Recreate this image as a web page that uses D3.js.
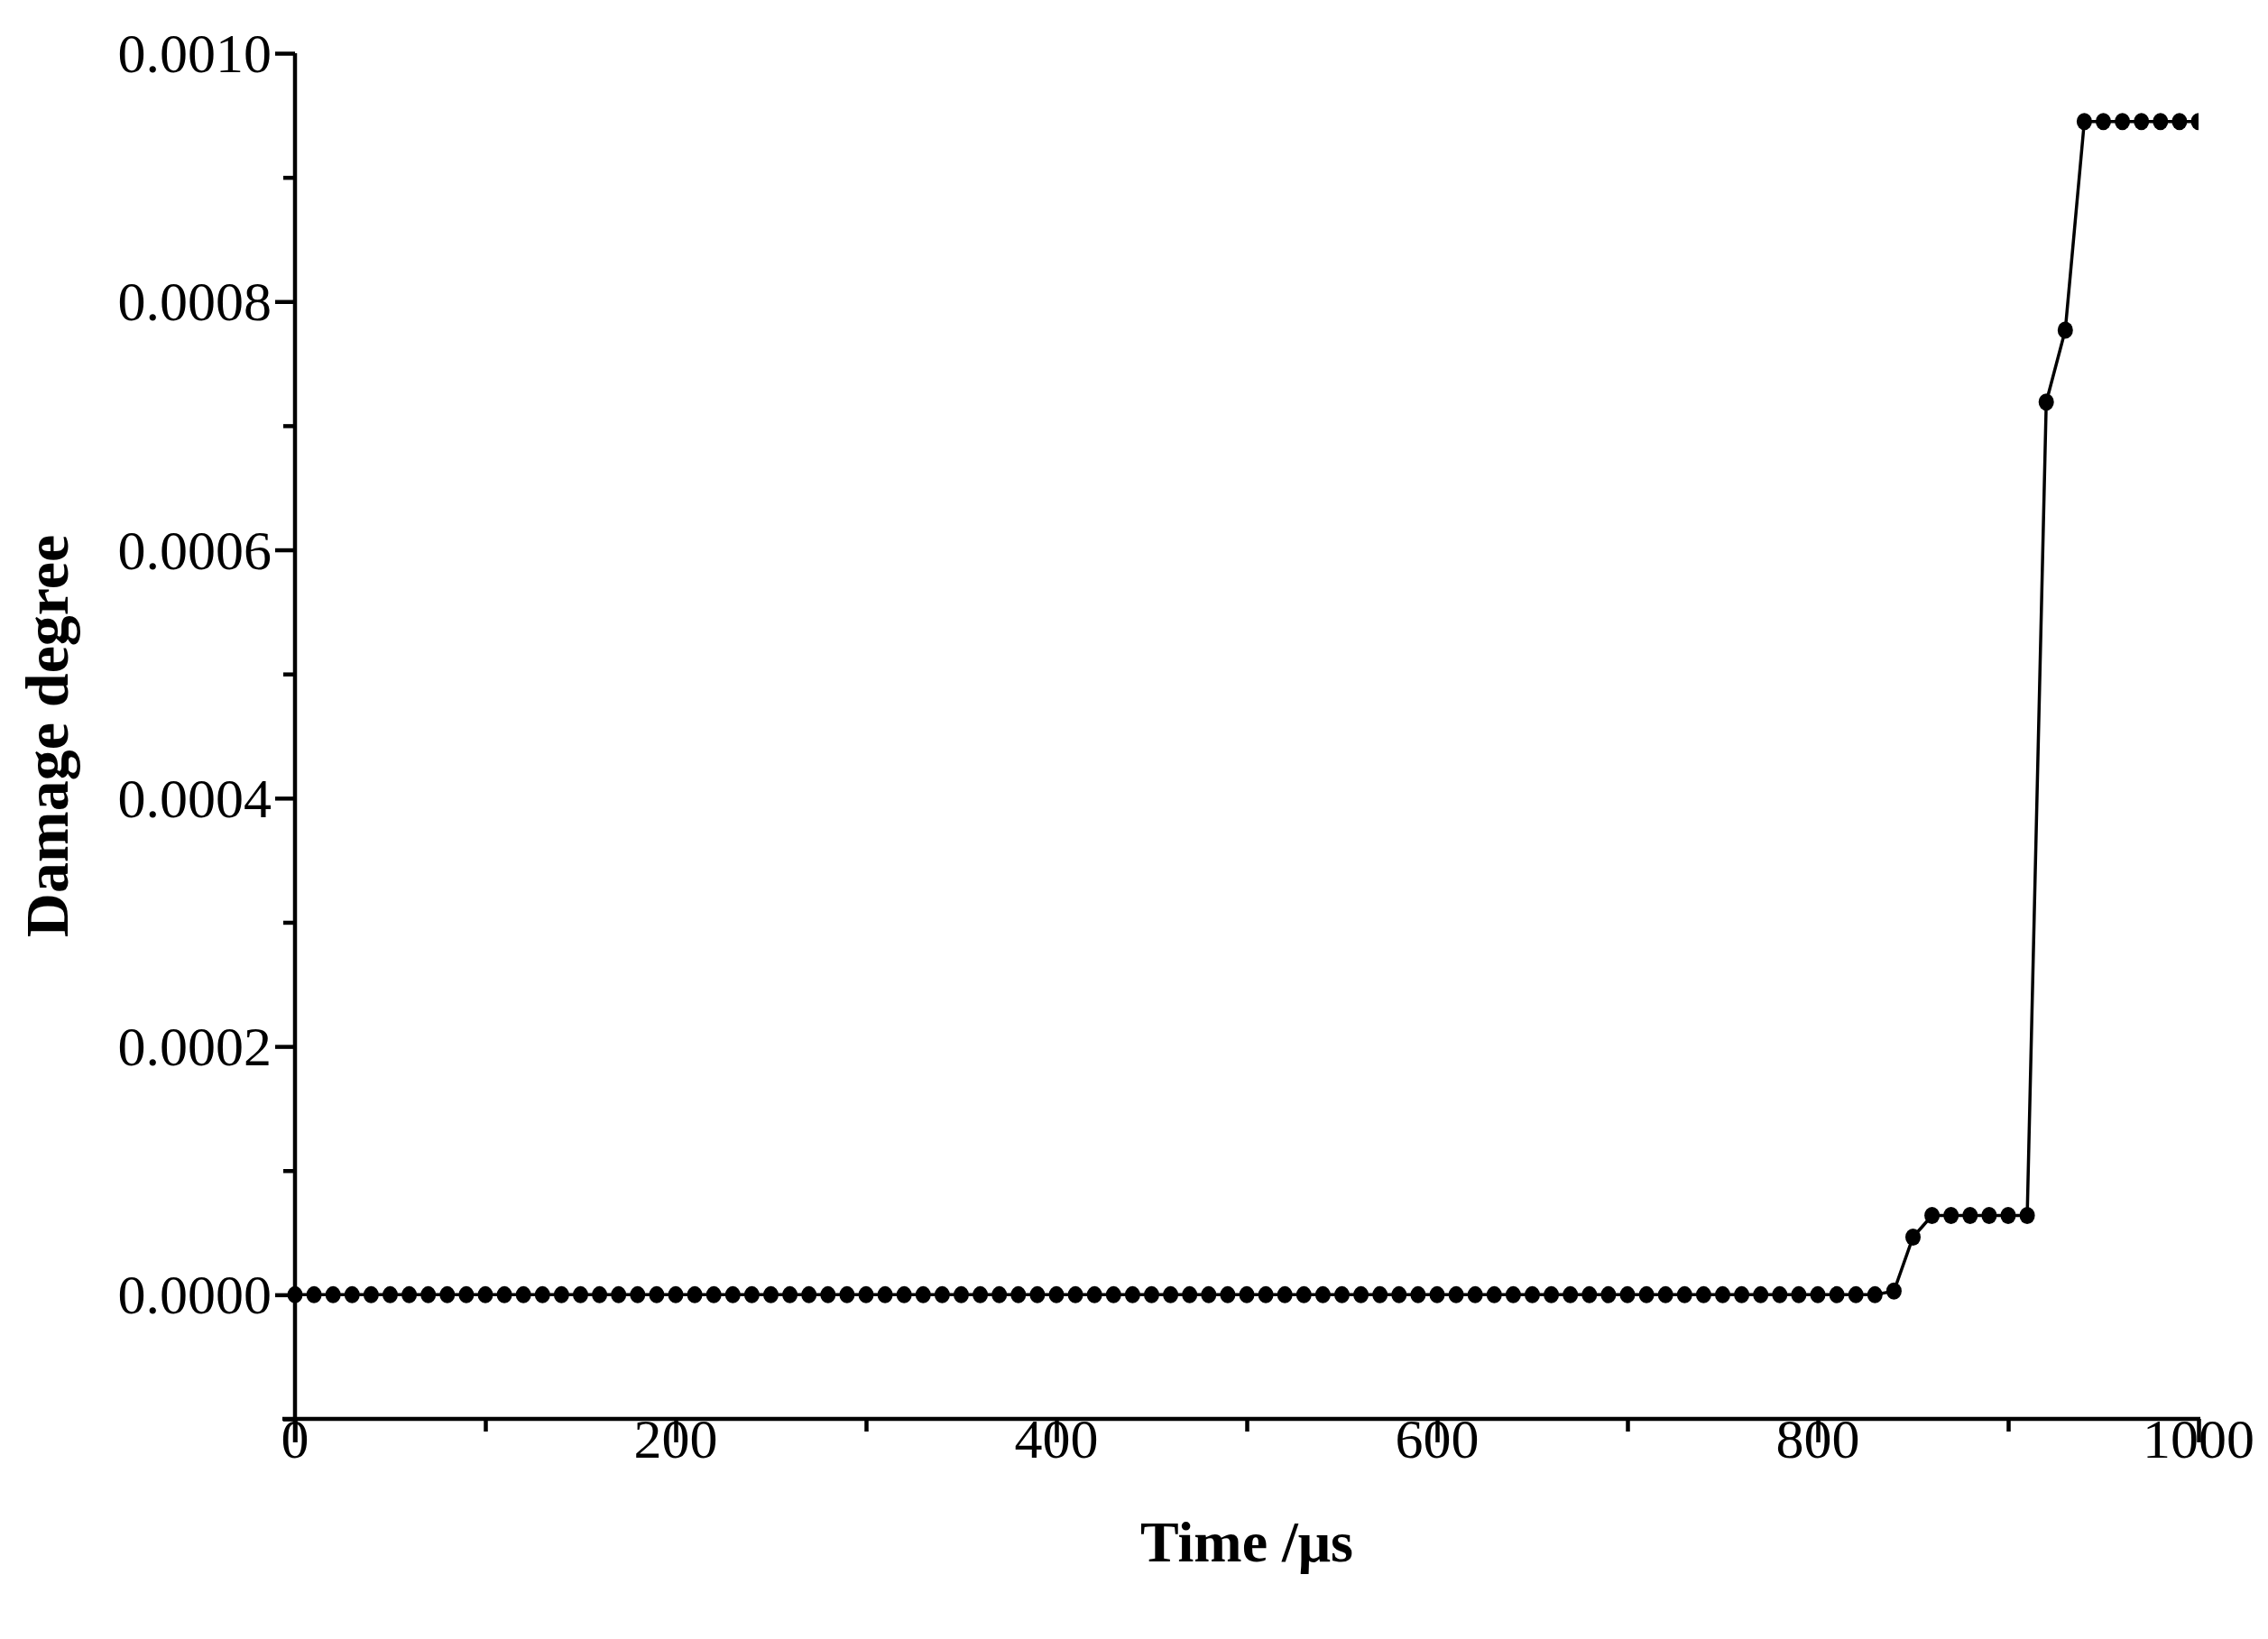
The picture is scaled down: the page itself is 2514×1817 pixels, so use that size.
<!DOCTYPE html>
<html><head><meta charset="utf-8">
<script src="https://cdn.jsdelivr.net/npm/d3@7"></script>
<style>body{margin:0;background:#fff}</style></head>
<body><svg id="c" width="2514" height="1817"></svg>
<script>
const times = d3.range(0, 1001, 10);
const stepTimes = [840, 850, 860, 870, 880, 890, 900, 910, 920, 930, 940, 950, 960, 970, 980, 990, 1000];
const stepValues = [0.000003, 0.0000464, 0.0000638, 0.0000638, 0.0000638, 0.0000638, 0.0000638, 0.0000638, 0.000719, 0.000777, 0.000945, 0.000945, 0.000945, 0.000945, 0.000945, 0.000945, 0.000945];
const xTicks = [0, 200, 400, 600, 800, 1000];
const yTicks = [0, 0.0002, 0.0004, 0.0006, 0.0008, 0.0010];
const data = times.map(t => { const i = stepTimes.indexOf(t); return {t, v: i >= 0 ? stepValues[i] : 0}; });

const svg = d3.select("#c");
const L = 327, R = 2437, T = 59, B = 1573;
const x = d3.scaleLinear().domain([0, 1000]).range([L, R]);
const y = d3.scaleLinear().domain([-0.0001, 0.001]).range([B, T]);
const font = "'Liberation Serif', 'DejaVu Serif', serif";

svg.append("defs").append("clipPath").attr("id","clip").append("rect")
  .attr("x", L-14).attr("y", T-20).attr("width", R-L+14).attr("height", B-T+20);

const xa = svg.append("g").attr("transform", `translate(0,${B})`)
  .call(d3.axisBottom(x).tickValues(d3.range(0,1001,100)).tickSize(14).tickFormat(""));
xa.selectAll(".tick line").filter(d => d % 200 === 0).attr("y2", 26);
const ya = svg.append("g").attr("transform", `translate(${L},0)`)
  .call(d3.axisLeft(y).tickValues(d3.range(-1, 11).map(i => i*0.0001)).tickSize(13).tickFormat(""));
ya.selectAll(".tick line").filter(d => Math.round(d*10000) % 2 === 0 && d >= 0).attr("x2", -22);
[xa, ya].forEach(g => { g.selectAll("path,line").attr("stroke", "#000").attr("stroke-width", 4.5); });
xa.select("path").attr("d", `M${L-14},0H${R+2}`);
ya.select("path").attr("d", `M0,${T}V${B+26}`);

svg.selectAll(".xl").data(xTicks).join("text").attr("x", d => x(d)).attr("y", 1616)
  .attr("text-anchor","middle").attr("font-family",font).attr("font-size",62).text(d => d);
svg.selectAll(".yl").data(yTicks).join("text").attr("x", 301).attr("y", d => y(d)+21)
  .attr("text-anchor","end").attr("font-family",font).attr("font-size",62).text(d => d.toFixed(4));

const g = svg.append("g").attr("clip-path","url(#clip)");
g.append("path").datum(data).attr("fill","none").attr("stroke","#000").attr("stroke-width",3.5)
  .attr("d", d3.line().x(d => x(d.t)).y(d => y(d.v)));
g.selectAll("ellipse").data(data).join("ellipse").attr("cx", d => x(d.t)).attr("cy", d => y(d.v))
  .attr("rx", 8.5).attr("ry", 9.5).attr("fill","#000");

svg.append("text").attr("x", 1382).attr("y", 1731).attr("text-anchor","middle")
  .attr("font-family",font).attr("font-weight","bold").attr("font-size",64).text("Time /μs");
svg.append("text").attr("transform", `translate(75,816) rotate(-90)`).attr("text-anchor","middle")
  .attr("font-family",font).attr("font-weight","bold").attr("font-size",68).text("Damage degree");
</script></body></html>
